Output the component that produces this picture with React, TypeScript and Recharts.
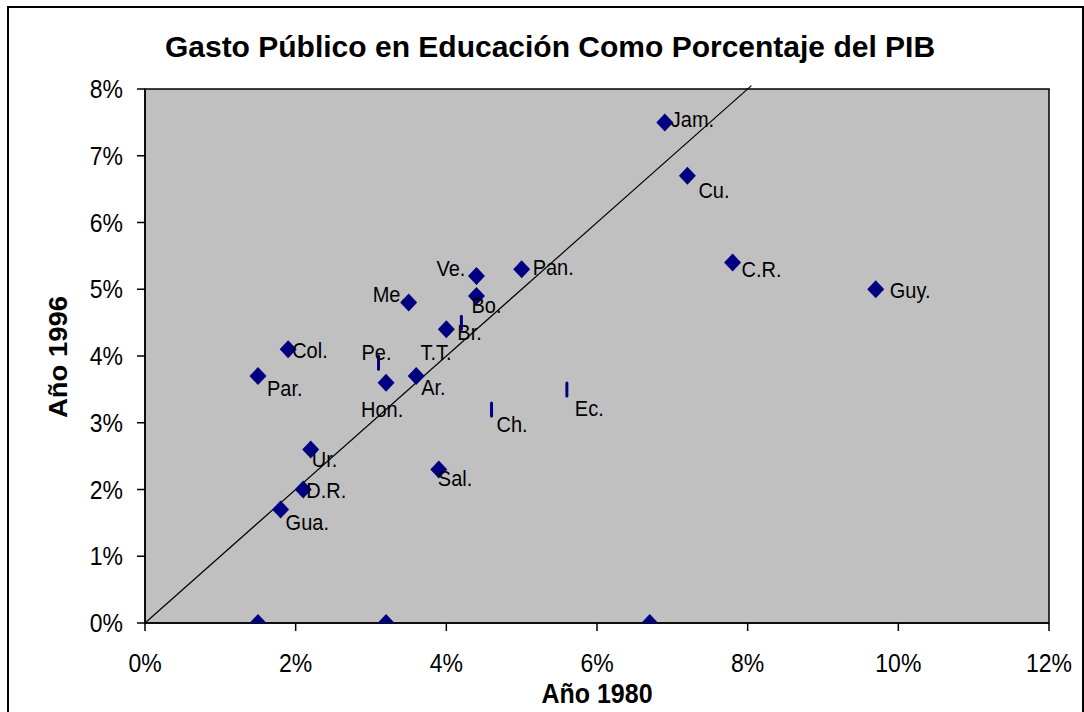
import React from "react"
import {
  ScatterChart,
  Scatter,
  XAxis,
  YAxis,
  ReferenceArea,
  ReferenceLine,
} from "recharts"

// countries shown with diamonds (blank names = unlabelled points on the axis)
const diamondNames = [
  "Jam.", "Cu.", "C.R.", "Guy.", "Pan.", "Ve.", "Bo.", "Me.", "Br.", "Col.",
  "Par.", "Hon.", "Ar.", "Ur.", "D.R.", "Gua.", "Sal.", "", "", "",
]
const diamond1980 = [6.9, 7.2, 7.8, 9.7, 5.0, 4.4, 4.4, 3.5, 4.0, 1.9, 1.5, 3.2, 3.6, 2.2, 2.1, 1.8, 3.9, 1.5, 3.2, 6.7]
const diamond1996 = [7.5, 6.7, 5.4, 5.0, 5.3, 5.2, 4.9, 4.8, 4.4, 4.1, 3.7, 3.6, 3.7, 2.6, 2.0, 1.7, 2.3, 0, 0, 0]

// countries shown with small dashes
const dashNames = ["Pe.", "T.T.", "Ch.", "Ec."]
const dash1980 = [3.1, 4.2, 4.6, 5.6]
const dash1996 = [3.9, 4.5, 3.2, 3.5]

const xTicks = [0, 2, 4, 6, 8, 10, 12]
const yTicks = [0, 1, 2, 3, 4, 5, 6, 7, 8]

// where each data label sits relative to its marker
const labelOffsets: Record<string, [number, number]> = {
  "Jam.": [6, -3],
  "Cu.": [11, 14],
  "C.R.": [9, 7],
  "Guy.": [14, 1],
  "Pan.": [11, -2],
  "Ve.": [-40, -8],
  "Bo.": [-5, 9],
  "Me.": [-36, -8],
  "Br.": [11, 3],
  "Col.": [4, 1],
  "Par.": [9, 12],
  "Hon.": [-25, 26],
  "Ar.": [5, 11],
  "Ur.": [1, 10],
  "D.R.": [3, 1],
  "Gua.": [5, 13],
  "Sal.": [-1, 9],
  "Pe.": [-17, -11],
  "T.T.": [-41, 30],
  "Ch.": [5, 15],
  "Ec.": [8, 19],
}

const diamondData = diamondNames.map((name, i) => ({ name, x: diamond1980[i], y: diamond1996[i] }))
const dashData = dashNames.map((name, i) => ({ name, x: dash1980[i], y: dash1996[i] }))

const FONT = '"Liberation Sans", Arial, sans-serif'
const NAVY = "#000080"
const STRETCH = 1.1 // the original text is a bit taller than it is wide

function PointLabel({ cx, cy, name }: { cx: number; cy: number; name: string }) {
  if (!name) return null
  const [dx, dy] = labelOffsets[name] || [6, 0]
  return (
    <text
      transform={`translate(${cx + dx},${cy + dy}) scale(1,${STRETCH})`}
      dominantBaseline="central"
      fontSize={20}
      fontFamily={FONT}
      fill="#000"
    >
      {name}
    </text>
  )
}

const DiamondShape = (props: any) => {
  const { cx, cy, payload } = props
  const r = 8.5
  const h = 9
  return (
    <g>
      <polygon points={`${cx},${cy - h} ${cx + r},${cy} ${cx},${cy + h} ${cx - r},${cy}`} fill={NAVY} />
      <PointLabel cx={cx} cy={cy} name={payload.name} />
    </g>
  )
}

const DashShape = (props: any) => {
  const { cx, cy, payload } = props
  return (
    <g>
      <rect x={cx - 1.5} y={cy - 8} width={3} height={16} rx={1.5} fill={NAVY} />
      <PointLabel cx={cx} cy={cy} name={payload.name} />
    </g>
  )
}

const XTick = (props: any) => {
  const { x, y, payload } = props
  return (
    <text
      transform={`translate(${x},${y + 41}) scale(1,${STRETCH})`}
      textAnchor="middle"
      fontSize={23}
      fontFamily={FONT}
      fill="#000"
    >
      {`${payload.value}%`}
    </text>
  )
}

const YTick = (props: any) => {
  const { x, y, payload } = props
  return (
    <text
      transform={`translate(${x - 14},${y + 9}) scale(1,${STRETCH})`}
      textAnchor="end"
      fontSize={23}
      fontFamily={FONT}
      fill="#000"
    >
      {`${payload.value}%`}
    </text>
  )
}

export default function App() {
  return (
    <div
      style={{
        position: "absolute",
        left: 7,
        top: 6,
        width: 1073,
        height: 720,
        border: "2px solid #000",
        background: "#fff",
      }}
    >
      <ScatterChart width={1073} height={720} margin={{ top: 81, right: 33, bottom: 45, left: 56 }}>
        <XAxis
          type="number"
          dataKey="x"
          domain={[0, 12]}
          ticks={xTicks}
          tick={XTick}
          tickSize={8}
          tickMargin={0}
          tickLine={{ stroke: "#000", strokeWidth: 1.5 }}
          axisLine={{ stroke: "#000", strokeWidth: 1.5 }}
          height={60}
          allowDataOverflow
        />
        <YAxis
          type="number"
          dataKey="y"
          domain={[0, 8]}
          ticks={yTicks}
          tick={YTick}
          tickSize={8}
          tickMargin={0}
          tickLine={{ stroke: "#000", strokeWidth: 1.5 }}
          axisLine={{ stroke: "#000", strokeWidth: 1.5 }}
          width={80}
          allowDataOverflow
        />
        <ReferenceArea x1={0} x2={12} y1={0} y2={8} fill="#C0C0C0" fillOpacity={1} stroke="#000" strokeWidth={1.5} />
        <ReferenceLine
          segment={[{ x: 0, y: 0 }, { x: 8.05, y: 8.05 }]}
          stroke="#000"
          strokeWidth={1.2}
          ifOverflow="visible"
        />
        <Scatter data={diamondData} shape={DiamondShape} isAnimationActive={false} />
        <Scatter data={dashData} shape={DashShape} isAnimationActive={false} />
      </ScatterChart>

      {/* title and axis titles */}
      <svg
        width={1073}
        height={720}
        style={{ position: "absolute", left: 0, top: 0, pointerEvents: "none" }}
      >
        <text x={541} y={49} textAnchor="middle" fontSize={30} fontWeight="bold" fontFamily={FONT} fill="#000">
          Gasto Público en Educación Como Porcentaje del PIB
        </text>
        <text
          transform={`translate(588,695) scale(1,${STRETCH})`}
          textAnchor="middle"
          fontSize={25}
          fontWeight="bold"
          fontFamily={FONT}
          fill="#000"
        >
          Año 1980
        </text>
        <text
          transform={`translate(58,349) rotate(-90) scale(${STRETCH},1)`}
          textAnchor="middle"
          fontSize={25}
          fontWeight="bold"
          fontFamily={FONT}
          fill="#000"
        >
          Año 1996
        </text>
      </svg>
    </div>
  )
}
